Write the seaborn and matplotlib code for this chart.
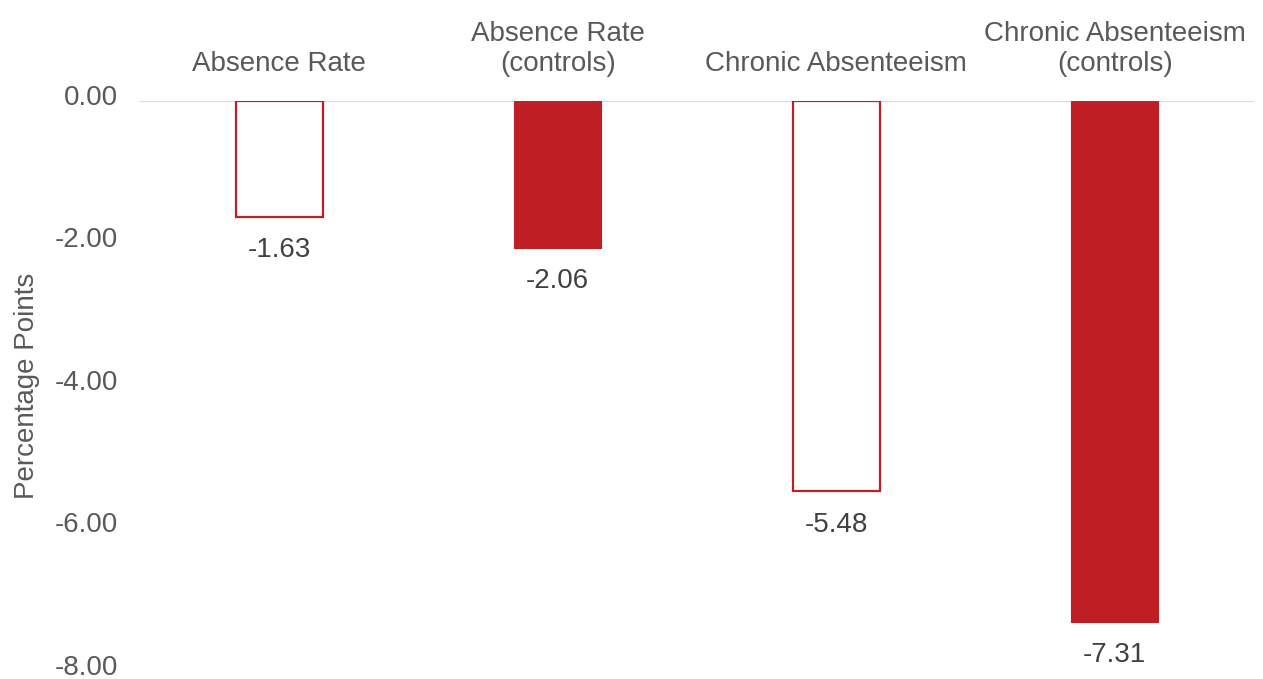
import matplotlib
matplotlib.use("Agg")
import matplotlib.pyplot as plt
import matplotlib.transforms as mtransforms
import seaborn as sns
import pandas as pd

categories = ["Absence Rate", "Absence Rate\n(controls)",
              "Chronic Absenteeism", "Chronic Absenteeism\n(controls)"]
values = [-1.63, -2.06, -5.48, -7.31]
with_controls = [False, True, False, True]
y_ticks = [0, -2, -4, -6, -8]

RED = "#BE1E24"
GRID = "#D9D9D9"
AXIS_TEXT = "#595959"
LABEL_TEXT = "#404040"
FS = 20

sns.set_theme(style="white")
plt.rcParams["font.family"] = ["Liberation Sans", "DejaVu Sans"]

df = pd.DataFrame({"category": categories, "value": values, "controls": with_controls})

fig = plt.figure(figsize=(12.63, 6.79), dpi=100)
ax = fig.add_axes([0.1108, 0.0118, 0.8821, 0.8395])

sns.barplot(data=df, x="category", y="value", color=RED, width=0.312,
            saturation=1, ax=ax)

# hollow bars for the estimates without controls
for patch, ctrl in zip(ax.patches, df["controls"]):
    if ctrl:
        patch.set_facecolor(RED)
        patch.set_edgecolor(RED)
        patch.set_linewidth(0.8)
    else:
        patch.set_facecolor("white")
        patch.set_edgecolor(RED)
        patch.set_linewidth(1.6)

for i, v in enumerate(df["value"]):
    ax.annotate(f"{v:.2f}", xy=(i, v), xytext=(0, -24), textcoords="offset points",
                ha="center", va="center", fontsize=FS, color=LABEL_TEXT)

ax.axhline(0, color=GRID, lw=1.6, zorder=0)
ax.set_ylim(-8, 0)
ax.set_xlim(-0.5, 3.5)
ax.set_yticks(y_ticks)
ax.set_yticklabels([f"{t:.2f}" for t in y_ticks])
ax.xaxis.tick_top()
ax.set_xlabel("")
ax.set_ylabel("Percentage Points", fontsize=FS, color=AXIS_TEXT, labelpad=10)
ax.tick_params(axis="x", length=0, pad=17, labelsize=FS, labelcolor=AXIS_TEXT)
ax.tick_params(axis="y", length=0, pad=16, labelsize=FS, labelcolor=AXIS_TEXT)

# nudge the value-axis labels upward so the bottom one stays inside the figure
lift = mtransforms.ScaledTranslation(0, 6 / 100, fig.dpi_scale_trans)
for lbl in ax.get_yticklabels():
    lbl.set_transform(lbl.get_transform() + lift)

for s in ax.spines.values():
    s.set_visible(False)
ax.grid(False)

fig.savefig("out.png", dpi=100)
